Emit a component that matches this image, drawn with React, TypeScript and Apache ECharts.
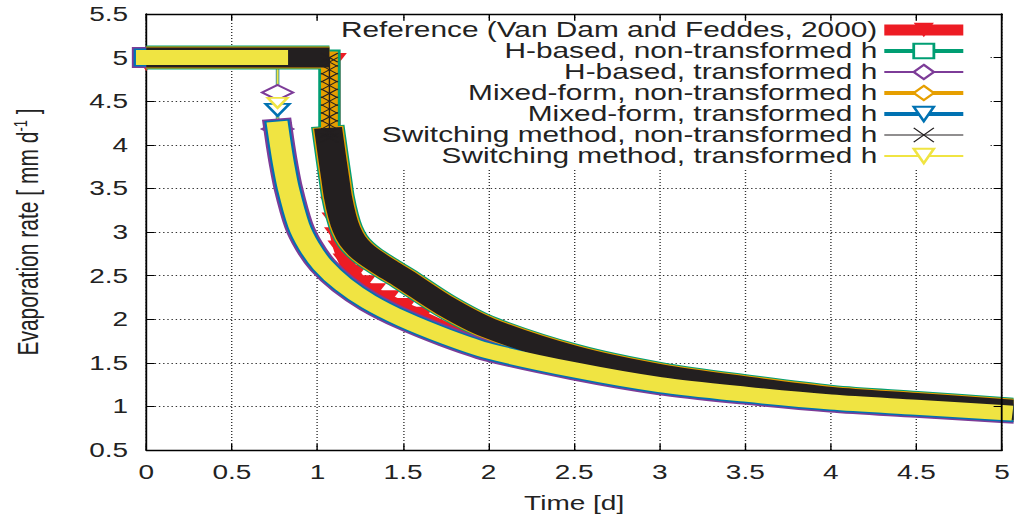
import React, { useEffect, useRef } from 'react';
import * as echarts from 'echarts';

// The reference picture is stretched horizontally; the chart is drawn narrower and scaled in x.
const STRETCH = 1.4;
const FULL_W = 1014;
const FULL_H = 518;
const W0 = FULL_W / STRETCH;

const FONT = 'Liberation Sans';

const legendNames = [
  'Reference (Van Dam and Feddes, 2000)',
  'H-based, non-transformed h',
  'H-based, transformed h',
  'Mixed-form, non-transformed h',
  'Mixed-form, transformed h',
  'Switching method, non-transformed h',
  'Switching method, transformed h',
];

// Reference solution (Van Dam and Feddes, 2000)
const refT = [0, 1.09, 1.09, 1.09, 1.095, 1.105, 1.12, 1.14, 1.17, 1.21, 1.26, 1.32, 1.4, 1.5, 1.6, 1.8, 2.0, 2.2, 2.4, 2.6, 2.8, 3.0, 3.2, 3.4, 3.6, 3.8, 4.0, 4.2, 4.4, 4.6, 4.8, 5.0];
const refE = [4.95, 4.95, 3.8, 3.5, 3.3, 3.12, 2.95, 2.8, 2.65, 2.52, 2.4, 2.31, 2.23, 2.14, 2.04, 1.86, 1.7, 1.59, 1.5, 1.41, 1.32, 1.255, 1.205, 1.16, 1.115, 1.08, 1.045, 1.015, 0.99, 0.965, 0.94, 0.92];

// Potential-rate plateau
const flatE = 5;

// Transformed-h runs (H-based, mixed-form, switching): plateau end and decay
const dropTransT = 0.767;
const transT = [0.77, 0.785, 0.8, 0.83, 0.89, 0.95, 1.03, 1.15, 1.3, 1.5, 1.75, 2.0, 2.5, 3.0, 3.5, 4.0, 4.5, 5.0];
const transE = [4.18, 3.98, 3.8, 3.5, 3.08, 2.84, 2.62, 2.4, 2.2, 2.0, 1.8, 1.635, 1.42, 1.25, 1.14, 1.05, 0.99, 0.93];
const hTransDropE = [5, 4.6, 4.18];
const mixTransDropE = [5, 4.4, 4.18];
const swTransDropE = [5, 4.48, 4.18];

// Non-transformed-h runs: plateau end, vertical drop and decay
const dropNonT = 1.07;
const nonDropE = [5, 4.95, 4.86, 4.77, 4.68, 4.59, 4.5, 4.41, 4.32, 4.23, 4.14, 4.08];
const nonT = [1.07, 1.09, 1.105, 1.12, 1.145, 1.17, 1.205, 1.25, 1.3, 1.4, 1.5, 1.75, 2.0, 2.5, 3.0, 3.5, 4.0, 4.5, 5.0];
const nonE = [4.08, 3.8, 3.6, 3.4, 3.18, 3.03, 2.9, 2.8, 2.72, 2.59, 2.47, 2.15, 1.9, 1.58, 1.37, 1.23, 1.11, 1.04, 0.97];

const COLORS = {
  red: '#ed1c24',
  green: '#009e73',
  purple: '#7d3c98',
  orange: '#e69f00',
  blue: '#0072b2',
  black: '#231f20',
  yellow: '#f0e442',
};

const pts = (t: number[], e: number[]) => t.map((v, i) => [v, e[i]]);
const vpts = (t: number, e: number[]) => e.map((v) => [t, v]);

const X_PATH = 'path://M0,0L10,10M10,0L0,10';

function band(id: string, data: number[][], color: string, width: number, smooth = 0, cap = 'square') {
  return {
    type: 'line',
    name: id,
    data,
    z: 3,
    clip: false,
    silent: true,
    smooth,
    symbol: 'none',
    showSymbol: false,
    lineStyle: { color, width, cap, join: 'round' },
    itemStyle: { color },
  };
}

function buildOption() {
  const flat = (t: number) => [[0, flatE], [t, flatE]];
  const column = vpts(dropNonT, [nonDropE[0], nonDropE[nonDropE.length - 1]]);
  const SM = 0.3;
  const series: any[] = [];

  // Reference
  series.push({
    type: 'line',
    name: legendNames[0],
    data: pts(refT, refE),
    z: 2,
    clip: false,
    smooth: 0.2,
    symbol: 'triangle',
    symbolRotate: 180,
    symbolSize: [20, 18],
    showAllSymbol: true,
    lineStyle: { color: COLORS.red, width: 11, join: 'round' },
    itemStyle: { color: COLORS.red },
  });

  // H-based, non-transformed
  series.push({
    type: 'line', name: legendNames[1], data: column, z: 2,
    symbol: 'emptyRect', showSymbol: false, lineStyle: { color: COLORS.green, width: 3 }, itemStyle: { color: COLORS.green },
  });
  series.push(band('b-green-flat', flat(dropNonT), COLORS.green, 24, 0, 'butt'));
  series.push(band('b-green-col', column, COLORS.green, 16));
  series.push(band('b-green-curve', pts(nonT, nonE), COLORS.green, 24, SM));

  // H-based, transformed
  series.push({
    type: 'line', name: legendNames[2], data: vpts(dropTransT, hTransDropE), z: 2,
    symbol: 'emptyDiamond', symbolSize: [22, 15], lineStyle: { color: COLORS.purple, width: 2 }, itemStyle: { color: COLORS.purple, borderWidth: 2 },
  });
  series.push(band('b-purple-flat', flat(dropTransT), COLORS.purple, 21));
  series.push(band('b-purple-curve', pts(transT, transE), COLORS.purple, 21, SM));

  // Mixed-form, non-transformed
  series.push({
    type: 'line', name: legendNames[3], data: column, z: 2,
    symbol: 'emptyDiamond', showSymbol: false, lineStyle: { color: COLORS.orange, width: 3 }, itemStyle: { color: COLORS.orange },
  });
  series.push(band('b-orange-flat', flat(dropNonT), COLORS.orange, 22, 0, 'butt'));
  series.push(band('b-orange-col', column, COLORS.orange, 12));
  series.push(band('b-orange-curve', pts(nonT, nonE), COLORS.orange, 22, SM));

  // Mixed-form, transformed
  series.push({
    type: 'line', name: legendNames[4], data: vpts(dropTransT, mixTransDropE), z: 2,
    symbol: 'emptyTriangle', symbolRotate: 180, symbolSize: [17, 12], lineStyle: { color: COLORS.blue, width: 2.5 }, itemStyle: { color: COLORS.blue, borderWidth: 2.5 },
  });
  series.push(band('b-blue-flat', flat(dropTransT), COLORS.blue, 18));
  series.push(band('b-blue-curve', pts(transT, transE), COLORS.blue, 18, SM));

  // Switching, non-transformed (bands)
  series.push(band('b-black-flat', flat(dropNonT), COLORS.black, 20, 0, 'butt'));
  series.push(band('b-black-curve', pts(nonT, nonE), COLORS.black, 20, SM));

  // Switching, transformed
  series.push({
    type: 'line', name: legendNames[6], data: vpts(dropTransT, swTransDropE), z: 2,
    symbol: 'emptyTriangle', symbolRotate: 180, symbolSize: [14, 10], lineStyle: { color: COLORS.yellow, width: 1.5 }, itemStyle: { color: COLORS.yellow, borderWidth: 1.5 },
  });
  series.push(band('b-yellow-flat', flat(dropTransT), COLORS.yellow, 15));
  series.push(band('b-yellow-curve', pts(transT, transE), COLORS.yellow, 15, SM));

  // Switching, non-transformed: crosses along the vertical drop, on top
  series.push({
    type: 'line', name: legendNames[5], data: vpts(dropNonT, nonDropE), z: 4, clip: false,
    symbol: X_PATH, symbolSize: [12, 9], showAllSymbol: true,
    lineStyle: { color: COLORS.black, width: 1 },
    itemStyle: { color: 'none', borderColor: COLORS.black, borderWidth: 1 },
  });

  const legendWidths = [11, 4, 2, 4, 4, 1, 2];
  const legendColors = [COLORS.red, COLORS.green, COLORS.purple, COLORS.orange, COLORS.blue, COLORS.black, COLORS.yellow];

  const axisCommon = {
    axisLine: { show: true, onZero: false, lineStyle: { color: '#000', width: 1.3 } },
    axisTick: { show: true, inside: true, length: 6, lineStyle: { color: '#000', width: 1 } },
  };

  return {
    animation: false,
    textStyle: { fontFamily: FONT },
    grid: { left: 146 / STRETCH, right: 8 / STRETCH, top: 14, bottom: 68, containLabel: false },
    legend: {
      orient: 'vertical',
      align: 'right',
      right: (FULL_W - 971) / STRETCH,
      top: 19.5,
      padding: 0,
      itemGap: 0,
      itemWidth: 79 / STRETCH,
      itemHeight: 18,
      selectedMode: false,
      textStyle: { fontFamily: FONT, fontSize: 21.3, color: '#222', lineHeight: 21 },
      data: legendNames.map((n, i) => ({
        name: n,
        lineStyle: { width: legendWidths[i], color: legendColors[i] },
        ...(i === 5 ? { itemStyle: { color: 'none', borderColor: COLORS.black, borderWidth: 1 } } : {}),
      })),
    },
    graphic: [
      {
        type: 'rect',
        z: 1,
        silent: true,
        shape: { x: 240 / STRETCH, y: 21, width: (988 - 240) / STRETCH, height: 147 },
        style: { fill: '#fff' },
      },
    ],
    xAxis: [
      {
        type: 'value', min: 0, max: 5, interval: 0.5, position: 'bottom',
        ...axisCommon,
        axisLabel: { fontSize: 20, color: '#222', margin: 12, fontFamily: FONT },
        splitLine: { show: true, lineStyle: { color: '#333', type: [1, 2], width: 1 } },
        name: 'Time [d]', nameLocation: 'middle', nameGap: 43,
        nameTextStyle: { fontSize: 20, color: '#222', fontFamily: FONT },
      },
      {
        type: 'value', min: 0, max: 5, interval: 0.5, position: 'top', z: 5,
        ...axisCommon,
        axisLabel: { show: false }, splitLine: { show: false },
      },
    ],
    yAxis: [
      {
        type: 'value', min: 0.5, max: 5.5, interval: 0.5, position: 'left',
        ...axisCommon,
        axisLabel: { fontSize: 20, color: '#222', margin: 13, fontFamily: FONT },
        splitLine: { show: true, lineStyle: { color: '#333', type: [1, 2], width: 1 } },
        name: 'Evaporation rate [ mm d{sup|-1} ]', nameLocation: 'middle', nameGap: 73.5,
        nameTextStyle: {
          fontSize: 21, color: '#222', fontFamily: FONT,
          rich: { sup: { fontSize: 13, color: '#222', fontFamily: FONT, padding: [0, 0, 10, 0] } },
        },
      },
      {
        type: 'value', min: 0.5, max: 5.5, interval: 0.5, position: 'right', z: 5,
        ...axisCommon,
        axisLabel: { show: false }, splitLine: { show: false },
      },
    ],
    series,
  };
}

export default function App() {
  const ref = useRef<HTMLDivElement>(null);
  useEffect(() => {
    if (!ref.current) return;
    const chart = echarts.init(ref.current, null, { renderer: 'svg', width: W0, height: FULL_H });
    chart.setOption(buildOption() as any);
    return () => chart.dispose();
  }, []);
  return (
    <div
      ref={ref}
      style={{
        position: 'fixed', left: 0, top: 0, width: W0, height: FULL_H,
        transform: `scaleX(${STRETCH})`, transformOrigin: '0 0', background: '#fff',
      }}
    />
  );
}
